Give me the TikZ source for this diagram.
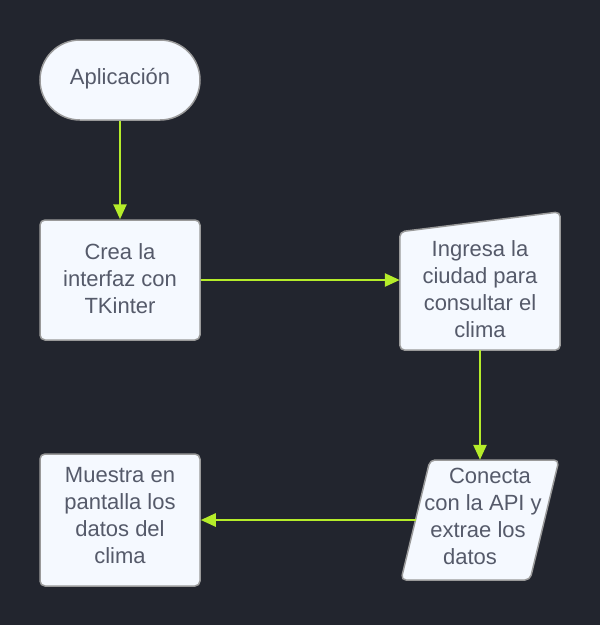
\documentclass[tikz,border=0pt]{standalone}
\usepackage{fontspec}
\setmainfont{Liberation Sans}
\usetikzlibrary{arrows.meta}
\definecolor{bg}{HTML}{22252E}
\definecolor{boxfill}{HTML}{F5F9FF}
\definecolor{boxline}{HTML}{9A9A9A}
\definecolor{lime}{HTML}{B5EC2A}
\definecolor{txt}{HTML}{555A6A}
\begin{document}
\begin{tikzpicture}[x=1pt,y=-1pt,
  shapebox/.style={draw=boxline,line width=1.5pt,fill=boxfill,rounded corners=5pt},
  label/.style={text=txt,font=\fontsize{22}{27}\selectfont,align=center,inner sep=0pt},
  conn/.style={draw=lime,line width=2.5pt,-{Triangle[length=15pt,width=13pt]}}]
\useasboundingbox[fill=bg] (0,0) rectangle (600,625);
% terminal
\node[shapebox,rounded corners=40pt,minimum width=160pt,minimum height=80pt,inner sep=0pt] (app) at (120,80) {};
\node[label] (appt) at (120,79) {Aplicación};
% box 1
\node[shapebox,minimum width=160pt,minimum height=120pt,inner sep=0pt] (crea) at (120,280) {};
\node[label] at (120,279) {Crea la\\interfaz con\\TKinter};
% manual input
\node[minimum width=160pt,minimum height=138pt,inner sep=0pt] (ing) at (480,281) {};
\draw[shapebox] (ing.south west) -- ([yshift=-20pt]ing.north west) -- (ing.north east) -- (ing.south east) -- cycle;
\node[label] at (480,289) {Ingresa la\\ciudad para\\consultar el\\clima};
% parallelogram
\node[minimum width=160pt,minimum height=120pt,inner sep=0pt] (con) at (480,520) {};
\draw[shapebox] (401,580) -- (430,460) -- (559,460) -- (530,580) -- cycle;
\coordinate (conw) at (415.5,520);
\node[label] at (483,516) {\null\kern14pt Conecta\\con la API y\\extrae los\kern10pt\null\\datos\kern26pt\null};
% box 4
\node[shapebox,minimum width=160pt,minimum height=132pt,inner sep=0pt] (mue) at (120,520) {};
\node[label] at (120,516) {Muestra en\\pantalla los\\datos del\\clima};
% connectors
\draw[conn] (app.south) -- (crea.north);
\draw[conn] (crea.east) -- (crea.east -| ing.west);
\draw[conn] (ing.south) -- (con.north);
\draw[conn] (conw) -- (mue.east);
\end{tikzpicture}
\end{document}
